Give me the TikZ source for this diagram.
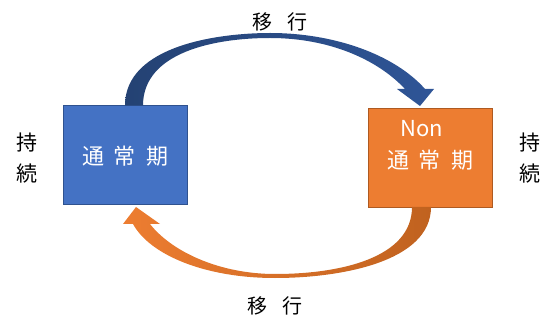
\documentclass[tikz,border=0pt]{standalone}
\usepackage{fontspec}
\setmainfont{Noto Sans CJK JP}
\definecolor{boxblue}{HTML}{4472C4}
\definecolor{boxblueline}{HTML}{2F528F}
\definecolor{boxorange}{HTML}{ED7D31}
\definecolor{boxorangeline}{HTML}{AE5A21}
\definecolor{arrblueA}{HTML}{244273}
\definecolor{arrblueB}{HTML}{2F5597}
\definecolor{arrorA}{HTML}{C0621F}
\definecolor{arrorB}{HTML}{ED7D31}
\tikzset{
  statebox/.style={draw, line width=0.8pt, minimum width=124pt, minimum height=99pt, inner sep=0pt},
  boxtext/.style={text=white, font={\fontsize{22}{31}\selectfont\spaceskip=10pt\relax}, align=center},
  lbl/.style={text=black, font={\fontsize{20}{24}\selectfont\spaceskip=15pt\relax}},
  side/.style={text=black, font={\fontsize{21}{31}\selectfont}, align=center},
}
\begin{document}
\begin{tikzpicture}[x=1pt,y=-1pt]
\useasboundingbox (0,0) rectangle (548,320);
% boxes
\node[statebox, fill=boxblue, draw=boxblueline] (b) at (125,154.5) {};
\node[boxtext] (bt) at (125,156) {通 常 期};
\node[statebox, fill=boxorange, draw=boxorangeline] (o) at (430,157.5) {};
\node[boxtext, anchor=center] (on) at (422,129) {Non};
\node[boxtext] (ot) at (430,160) {通 常 期};
% top curved arrow
\path[left color=arrblueA, right color=arrblueB, shading angle=90]
  (125,105.5) .. controls (125,45) and (220,33) .. (270,33)
  .. controls (335,33) and (395,55) .. (425,89)
  -- (434,89) -- (420,106) -- (397,89) -- (405,89)
  .. controls (378,60) and (330,38) .. (270,38)
  .. controls (215,38) and (143,52) .. (143,105.5) -- cycle;
% bottom curved arrow
\path[left color=arrorB, right color=arrorA]
  (431,207) .. controls (431,262) and (340,278) .. (275,278)
  .. controls (205,278) and (150,255) .. (133,224)
  -- (123,224) -- (136,207) -- (160,224) -- (150,224)
  .. controls (172,252) and (220,274) .. (275,274)
  .. controls (340,274) and (412,258) .. (412,207) -- cycle;
% labels
\node[lbl] (t1) at (280,22) {移 行};
\node[lbl] (t2) at (275,306) {移 行};
\node[side] (sl) at (27,158) {持\\続};
\node[side] (sr) at (530,158) {持\\続};
\end{tikzpicture}
\end{document}
